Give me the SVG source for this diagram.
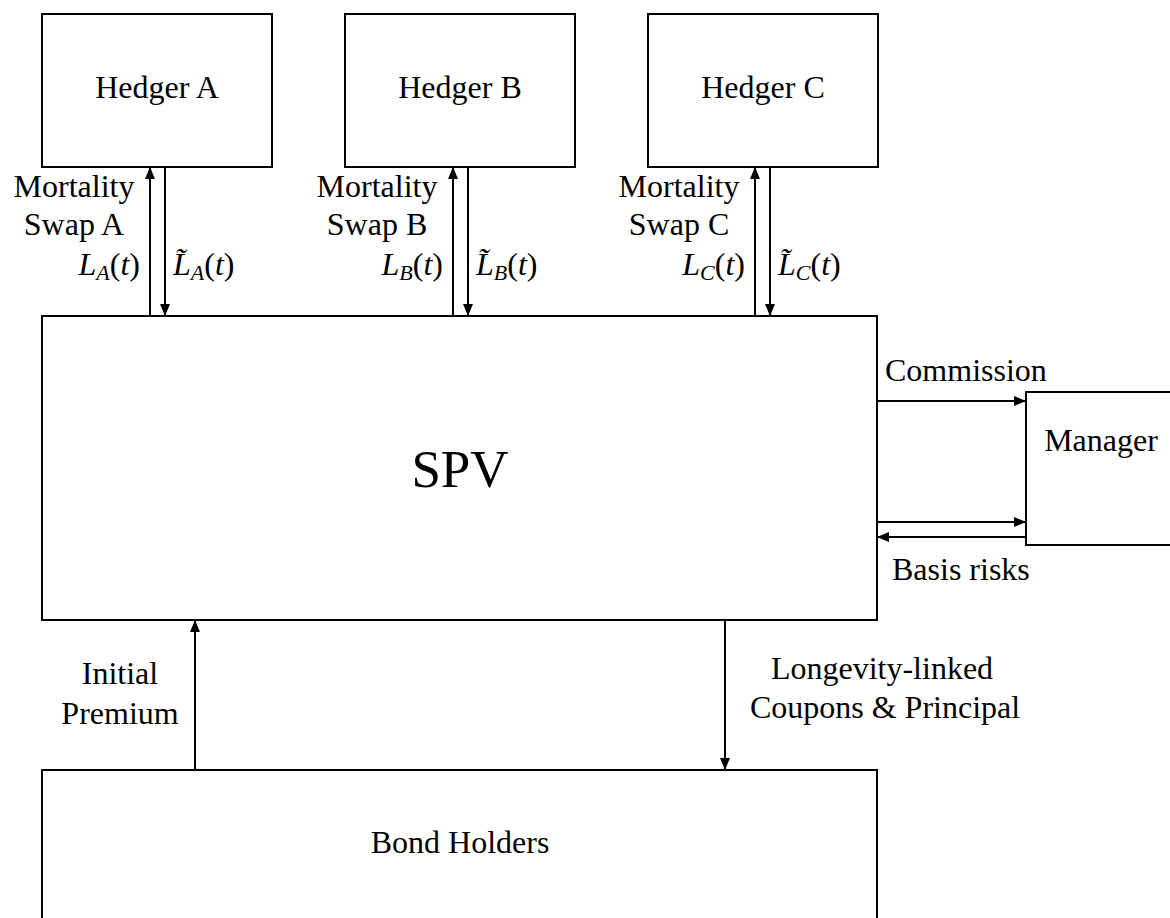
<svg xmlns="http://www.w3.org/2000/svg" width="1170" height="918" viewBox="0 0 1170 918">
<style>
.box{fill:#fff;stroke:#000;stroke-width:2}
.t{font-family:"Liberation Serif","Times New Roman",serif;font-size:32px;fill:#000}
.c{text-anchor:middle}
.e{text-anchor:end}
.i{font-style:italic}
.s{font-size:22px;font-style:italic}
.ln{stroke:#000;stroke-width:2;fill:none;marker-end:url(#ah)}
</style>
<defs>
<marker id="ah" viewBox="0 0 12 10" refX="12" refY="5" markerWidth="12" markerHeight="10" markerUnits="userSpaceOnUse" orient="auto">
<path d="M0,0 L12,5 L0,10 Z" fill="#000"/>
</marker>
</defs>
<rect width="1170" height="918" fill="#fff"/>
<g id="hedgerA"><rect class="box" x="42" y="14" width="230" height="153"/><text class="t c" x="157" y="98">Hedger A</text></g>
<g id="hedgerB"><rect class="box" x="345" y="14" width="230" height="153"/><text class="t c" x="460" y="98">Hedger B</text></g>
<g id="hedgerC"><rect class="box" x="648" y="14" width="230" height="153"/><text class="t c" x="763" y="98">Hedger C</text></g>
<g id="spv"><rect class="box" x="42" y="316" width="835" height="304"/><text class="t c" x="460" y="487" style="font-size:53px">SPV</text></g>
<g id="manager"><rect class="box" x="1026" y="392" width="150" height="153"/><text class="t c" x="1101" y="451">Manager</text></g>
<g id="bondholders"><rect class="box" x="42" y="770" width="835" height="160"/><text class="t c" x="460" y="853">Bond Holders</text></g>
<g id="connectors">
<line class="ln" x1="150" y1="316" x2="150" y2="167"/>
<line class="ln" x1="165" y1="167" x2="165" y2="316"/>
<line class="ln" x1="453" y1="316" x2="453" y2="167"/>
<line class="ln" x1="468" y1="167" x2="468" y2="316"/>
<line class="ln" x1="755" y1="316" x2="755" y2="167"/>
<line class="ln" x1="770" y1="167" x2="770" y2="316"/>
<line class="ln" x1="877" y1="401" x2="1026" y2="401"/>
<line class="ln" x1="877" y1="522" x2="1026" y2="522"/>
<line class="ln" x1="1026" y1="537" x2="877" y2="537"/>
<line class="ln" x1="195" y1="770" x2="195" y2="620"/>
<line class="ln" x1="725" y1="620" x2="725" y2="770"/>
</g>
<g id="labels">
<text class="t c" x="74" y="197">Mortality</text>
<text class="t c" x="74" y="235">Swap A</text>
<text class="t e" x="140" y="275"><tspan class="i">L</tspan><tspan class="s" dy="5">A</tspan><tspan dy="-5">(</tspan><tspan class="i">t</tspan>)</text>
<text class="t" x="173" y="275"><tspan class="i">L̃</tspan><tspan class="s" dy="5">A</tspan><tspan dy="-5">(</tspan><tspan class="i">t</tspan>)</text>
<text class="t c" x="377" y="197">Mortality</text>
<text class="t c" x="377" y="235">Swap B</text>
<text class="t e" x="443" y="275"><tspan class="i">L</tspan><tspan class="s" dy="5">B</tspan><tspan dy="-5">(</tspan><tspan class="i">t</tspan>)</text>
<text class="t" x="476" y="275"><tspan class="i">L̃</tspan><tspan class="s" dy="5">B</tspan><tspan dy="-5">(</tspan><tspan class="i">t</tspan>)</text>
<text class="t c" x="679" y="197">Mortality</text>
<text class="t c" x="679" y="235">Swap C</text>
<text class="t e" x="745" y="275"><tspan class="i">L</tspan><tspan class="s" dy="5">C</tspan><tspan dy="-5">(</tspan><tspan class="i">t</tspan>)</text>
<text class="t" x="778" y="275"><tspan class="i">L̃</tspan><tspan class="s" dy="5">C</tspan><tspan dy="-5">(</tspan><tspan class="i">t</tspan>)</text>
<text class="t" x="885" y="381">Commission</text>
<text class="t" x="892" y="580">Basis risks</text>
<text class="t c" x="120" y="684">Initial</text>
<text class="t c" x="120" y="724">Premium</text>
<text class="t c" x="882" y="679">Longevity-linked</text>
<text class="t c" x="885" y="718">Coupons &amp; Principal</text>
</g>
</svg>
